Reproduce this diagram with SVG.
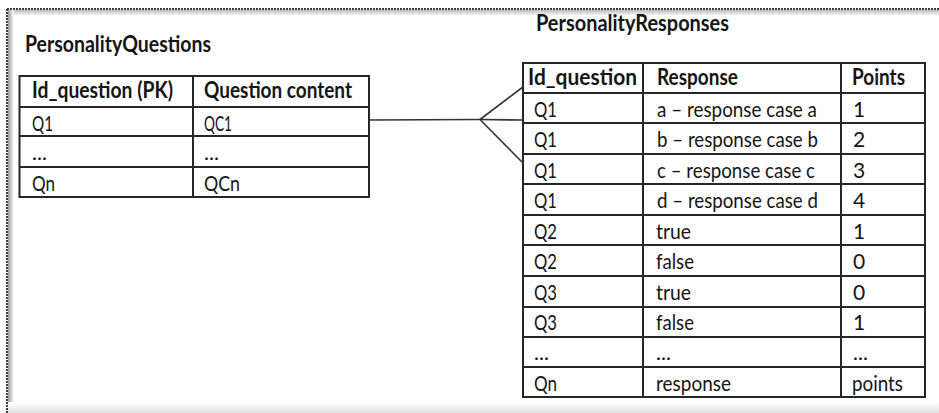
<svg xmlns="http://www.w3.org/2000/svg" width="939" height="413" viewBox="0 0 939 413">
  <defs>
    <linearGradient id="gl" x1="0" y1="0" x2="1" y2="0">
      <stop offset="0" stop-color="#9a9a9a"/>
      <stop offset="1" stop-color="#ffffff"/>
    </linearGradient>
    <linearGradient id="gt" x1="0" y1="0" x2="0" y2="1">
      <stop offset="0" stop-color="#bdbdbd"/>
      <stop offset="1" stop-color="#ffffff"/>
    </linearGradient>
    <linearGradient id="gb" x1="0" y1="0" x2="0" y2="1">
      <stop offset="0" stop-color="#ffffff"/>
      <stop offset="1" stop-color="#e2e2e2"/>
    </linearGradient>
  </defs>
  <style>
    .grid { fill: none; stroke: #262626; stroke-width: 2; }
    .conn { fill: none; stroke: #333333; stroke-width: 1.6; }
    text { font-family: Lato, "Liberation Sans", sans-serif; fill: #151515; }
    .h { font-size: 22px; font-weight: bold; }
    .t { font-size: 22px; font-weight: bold; }
    .d { font-size: 21px; }
  </style>

  <g id="frame">
    <rect x="0" y="0" width="939" height="413" fill="#ffffff"/>
    <rect x="8" y="10" width="931" height="6" fill="url(#gt)"/>
    <rect x="8" y="10" width="6" height="403" fill="url(#gl)"/>
    <rect x="8" y="402" width="931" height="11" fill="url(#gb)"/>
    <line x1="7" y1="9" x2="939" y2="9" stroke="#3a3a3a" stroke-width="2" stroke-dasharray="2 1"/>
    <line x1="7" y1="9" x2="7" y2="413" stroke="#3a3a3a" stroke-width="2" stroke-dasharray="2 1"/>
  </g>

  <g id="personality-questions">
    <text class="t" x="25" y="52" textLength="186" lengthAdjust="spacingAndGlyphs">PersonalityQuestions</text>
    <rect class="grid" x="19.5" y="76" width="349.5" height="121"/>
    <line class="grid" x1="19.5" y1="107" x2="369" y2="107"/>
    <line class="grid" x1="19.5" y1="136" x2="369" y2="136"/>
    <line class="grid" x1="19.5" y1="167" x2="369" y2="167"/>
    <line class="grid" x1="193" y1="76" x2="193" y2="197"/>
    <text class="h" x="32" y="98" textLength="141" lengthAdjust="spacingAndGlyphs">Id_question (PK)</text>
    <text class="h" x="204" y="98" textLength="148" lengthAdjust="spacingAndGlyphs">Question content</text>
    <text class="d" x="32" y="130.5" textLength="21" lengthAdjust="spacingAndGlyphs">Q1</text>
    <text class="d" x="204" y="130.5" textLength="28" lengthAdjust="spacingAndGlyphs">QC1</text>
    <text class="d" x="32" y="160">...</text>
    <text class="d" x="204" y="160">...</text>
    <text class="d" x="32" y="190.5" textLength="23" lengthAdjust="spacingAndGlyphs">Qn</text>
    <text class="d" x="204" y="190.5" textLength="36" lengthAdjust="spacingAndGlyphs">QCn</text>
  </g>

  <g id="personality-responses">
    <text class="t" x="536" y="31" textLength="193" lengthAdjust="spacingAndGlyphs">PersonalityResponses</text>
    <rect class="grid" x="523" y="63" width="402" height="334"/>
    <line class="grid" x1="523" y1="93" x2="925" y2="93"/>
    <line class="grid" x1="523" y1="123" x2="925" y2="123"/>
    <line class="grid" x1="523" y1="154" x2="925" y2="154"/>
    <line class="grid" x1="523" y1="184" x2="925" y2="184"/>
    <line class="grid" x1="523" y1="215" x2="925" y2="215"/>
    <line class="grid" x1="523" y1="245" x2="925" y2="245"/>
    <line class="grid" x1="523" y1="276" x2="925" y2="276"/>
    <line class="grid" x1="523" y1="307" x2="925" y2="307"/>
    <line class="grid" x1="523" y1="337" x2="925" y2="337"/>
    <line class="grid" x1="523" y1="367" x2="925" y2="367"/>
    <line class="grid" x1="643" y1="63" x2="643" y2="397"/>
    <line class="grid" x1="841" y1="63" x2="841" y2="397"/>

    <text class="h" x="528" y="85" textLength="109" lengthAdjust="spacingAndGlyphs">Id_question</text>
    <text class="h" x="657" y="85" textLength="81" lengthAdjust="spacingAndGlyphs">Response</text>
    <text class="h" x="852" y="85" textLength="53" lengthAdjust="spacingAndGlyphs">Points</text>

    <text class="d" x="534" y="116.5" textLength="23" lengthAdjust="spacingAndGlyphs">Q1</text>
    <text class="d" x="657" y="116.5" textLength="160" lengthAdjust="spacingAndGlyphs">a – response case a</text>
    <text class="d" x="853" y="116.5">1</text>

    <text class="d" x="534" y="147" textLength="23" lengthAdjust="spacingAndGlyphs">Q1</text>
    <text class="d" x="657" y="147" textLength="161" lengthAdjust="spacingAndGlyphs">b – response case b</text>
    <text class="d" x="853" y="147">2</text>

    <text class="d" x="534" y="177.5" textLength="23" lengthAdjust="spacingAndGlyphs">Q1</text>
    <text class="d" x="657" y="177.5" textLength="158" lengthAdjust="spacingAndGlyphs">c – response case c</text>
    <text class="d" x="853" y="177.5">3</text>

    <text class="d" x="534" y="208" textLength="23" lengthAdjust="spacingAndGlyphs">Q1</text>
    <text class="d" x="657" y="208" textLength="161" lengthAdjust="spacingAndGlyphs">d – response case d</text>
    <text class="d" x="853" y="208">4</text>

    <text class="d" x="534" y="238.5" textLength="23" lengthAdjust="spacingAndGlyphs">Q2</text>
    <text class="d" x="656" y="238.5" textLength="35" lengthAdjust="spacingAndGlyphs">true</text>
    <text class="d" x="853" y="238.5">1</text>

    <text class="d" x="534" y="269" textLength="23" lengthAdjust="spacingAndGlyphs">Q2</text>
    <text class="d" x="656" y="269" textLength="38" lengthAdjust="spacingAndGlyphs">false</text>
    <text class="d" x="853" y="269">0</text>

    <text class="d" x="534" y="299.5" textLength="23" lengthAdjust="spacingAndGlyphs">Q3</text>
    <text class="d" x="656" y="299.5" textLength="35" lengthAdjust="spacingAndGlyphs">true</text>
    <text class="d" x="853" y="299.5">0</text>

    <text class="d" x="534" y="330" textLength="23" lengthAdjust="spacingAndGlyphs">Q3</text>
    <text class="d" x="656" y="330" textLength="38" lengthAdjust="spacingAndGlyphs">false</text>
    <text class="d" x="853" y="330">1</text>

    <text class="d" x="534" y="360">...</text>
    <text class="d" x="656" y="360">...</text>
    <text class="d" x="853" y="360">...</text>

    <text class="d" x="534" y="390.5" textLength="23" lengthAdjust="spacingAndGlyphs">Qn</text>
    <text class="d" x="656" y="390.5" textLength="75" lengthAdjust="spacingAndGlyphs">response</text>
    <text class="d" x="852" y="390.5" textLength="51" lengthAdjust="spacingAndGlyphs">points</text>
  </g>

  <g id="connectors">
    <polyline class="conn" points="369,120 480,119.5 523,120"/>
    <line class="conn" x1="480" y1="119.5" x2="523" y2="87"/>
    <line class="conn" x1="480" y1="119.5" x2="522" y2="162"/>
  </g>
</svg>
